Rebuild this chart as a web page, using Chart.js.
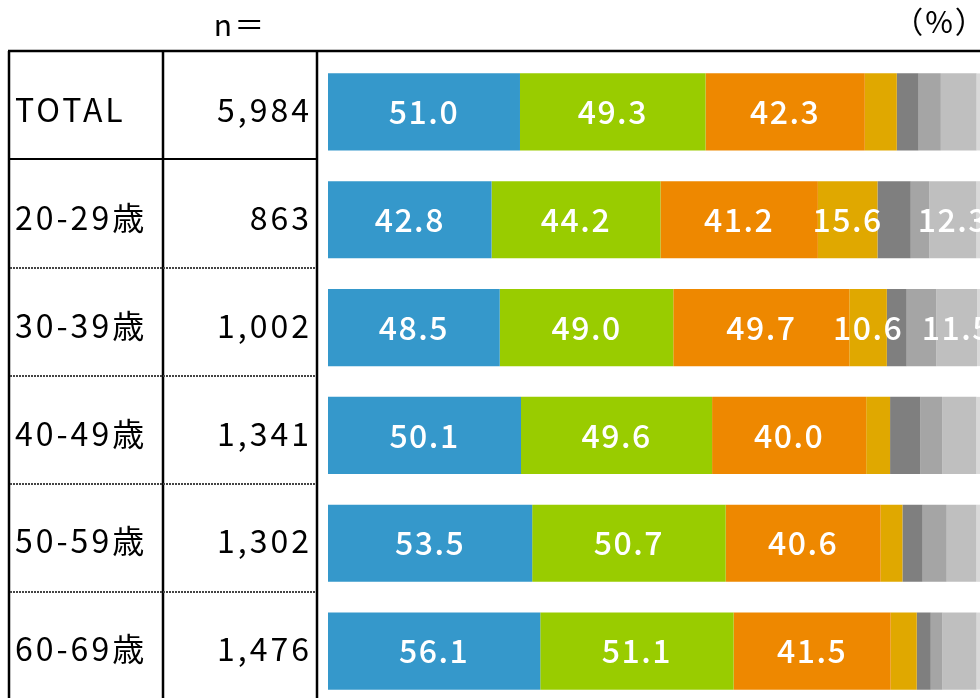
<!DOCTYPE html>
<html>
<head>
<meta charset="utf-8">
<script src="https://cdn.jsdelivr.net/npm/chart.js@4/dist/chart.umd.min.js"></script>
<style>
  html, body { margin: 0; padding: 0; background: #fff; overflow: hidden; }
  #wrap { width: 980px; height: 698px; overflow: hidden; position: relative; }
</style>
</head>
<body>
<div id="wrap"><canvas id="bar-chart" width="990" height="710"></canvas></div>
<script>
// rows of the table
let groups = ["TOTAL", "20-29歳", "30-39歳", "40-49歳", "50-59歳", "60-69歳"];
let nValues = ["5,984", "863", "1,002", "1,341", "1,302", "1,476"];

// answer shares (%) per row, left to right
let s1 = [51.0, 42.8, 48.5, 50.1, 53.5, 56.1];
let s2 = [49.3, 44.2, 49.0, 49.6, 50.7, 51.1];
let s3 = [42.3, 41.2, 49.7, 40.0, 40.6, 41.5];
let s4 = [8.5, 15.6, 10.6, 6.2, 5.7, 6.9];
let s5 = [5.8, 8.7, 5.6, 7.8, 5.3, 3.7];
let s6 = [5.9, 4.9, 8.4, 5.7, 6.3, 3.1];
let s7 = [9.5, 12.3, 11.5, 8.9, 7.8, 9.0];
let s8 = [2.5, 2.5, 2.5, 2.5, 2.5, 2.5]; // mostly cut off at the right edge

let series = [s1, s2, s3, s4, s5, s6, s7, s8];
let colors = ["#3598cb", "#99cc00", "#ee8800", "#e0a800", "#7f7f7f", "#a5a5a5", "#bfbfbf", "#d9d9d9"];

let FONT = '"Noto Sans CJK JP", "Noto Sans", sans-serif';

// each row is drawn as a 100% stack of its answers
let rowSums = groups.map((g, j) => series.reduce((sum, s) => sum + s[j], 0));

let datasets = [];
series.forEach((s, i) => {
  datasets.push({
    label: "item" + (i + 1),
    data: s.map((v, j) => v / rowSums[j] * 100),
    backgroundColor: colors[i],
    borderWidth: 0,
    categoryPercentage: 1,
    barPercentage: 0.715
  });
});

// white value labels inside the segments (10 % or more)
let valueLabels = {
  id: "valueLabels",
  afterDatasetsDraw(chart) {
    let ctx = chart.ctx;
    ctx.save();
    ctx.font = "500 32px " + FONT;
    ctx.fillStyle = "#fff";
    ctx.textAlign = "center";
    ctx.textBaseline = "middle";
    ctx.letterSpacing = "1.5px";
    series.forEach((s, i) => {
      let meta = chart.getDatasetMeta(i);
      meta.data.forEach((bar, j) => {
        if (s[j] >= 10) {
          ctx.fillText(s[j].toFixed(1), (bar.x + bar.base) / 2, bar.y);
        }
      });
    });
    ctx.restore();
  }
};

// table on the left: group names, n, lines
let sideTable = {
  id: "sideTable",
  afterDraw(chart) {
    let ctx = chart.ctx;
    let y = chart.scales.y;
    ctx.save();

    ctx.fillStyle = "#000";
    ctx.font = "30px " + FONT;
    ctx.letterSpacing = "2px";
    ctx.textBaseline = "middle";
    ctx.textAlign = "center";
    ctx.fillText("n＝", 240, 25);
    ctx.fillText("（%）", 940, 22);

    ctx.font = "32px " + FONT;
    ctx.letterSpacing = "3px";
    groups.forEach((g, j) => {
      let cy = y.getPixelForValue(j) - 2;
      ctx.textAlign = "left";
      ctx.fillText(g, 15, cy);
      ctx.textAlign = "right";
      ctx.fillText(nValues[j], 312, cy);
    });

    // frame
    ctx.strokeStyle = "#000";
    ctx.lineWidth = 2.5;
    ctx.beginPath();
    ctx.moveTo(8, 51); ctx.lineTo(990, 51);
    ctx.moveTo(9, 51); ctx.lineTo(9, 710);
    ctx.moveTo(163, 51); ctx.lineTo(163, 710);
    ctx.moveTo(317, 51); ctx.lineTo(317, 710);
    ctx.stroke();

    ctx.lineWidth = 2;
    ctx.beginPath();
    ctx.moveTo(9, 159); ctx.lineTo(317, 159);
    ctx.stroke();

    // dotted row separators
    ctx.strokeStyle = "#444";
    ctx.lineWidth = 2;
    ctx.setLineDash([2, 1]);
    [268, 376, 484, 592].forEach(ly => {
      ctx.beginPath();
      ctx.moveTo(10, ly); ctx.lineTo(316, ly);
      ctx.stroke();
    });
    ctx.restore();
  }
};

new Chart(document.getElementById("bar-chart"), {
  type: "bar",
  data: {
    labels: groups,
    datasets: datasets
  },
  options: {
    indexAxis: "y",
    responsive: false,
    animation: false,
    layout: { padding: { left: 328, right: 4, top: 58, bottom: 5 } },
    scales: {
      x: { stacked: true, min: 0, max: 100, display: false },
      y: { stacked: true, display: false }
    },
    plugins: {
      legend: { display: false },
      tooltip: { enabled: false }
    }
  },
  plugins: [valueLabels, sideTable]
});
</script>
</body>
</html>
